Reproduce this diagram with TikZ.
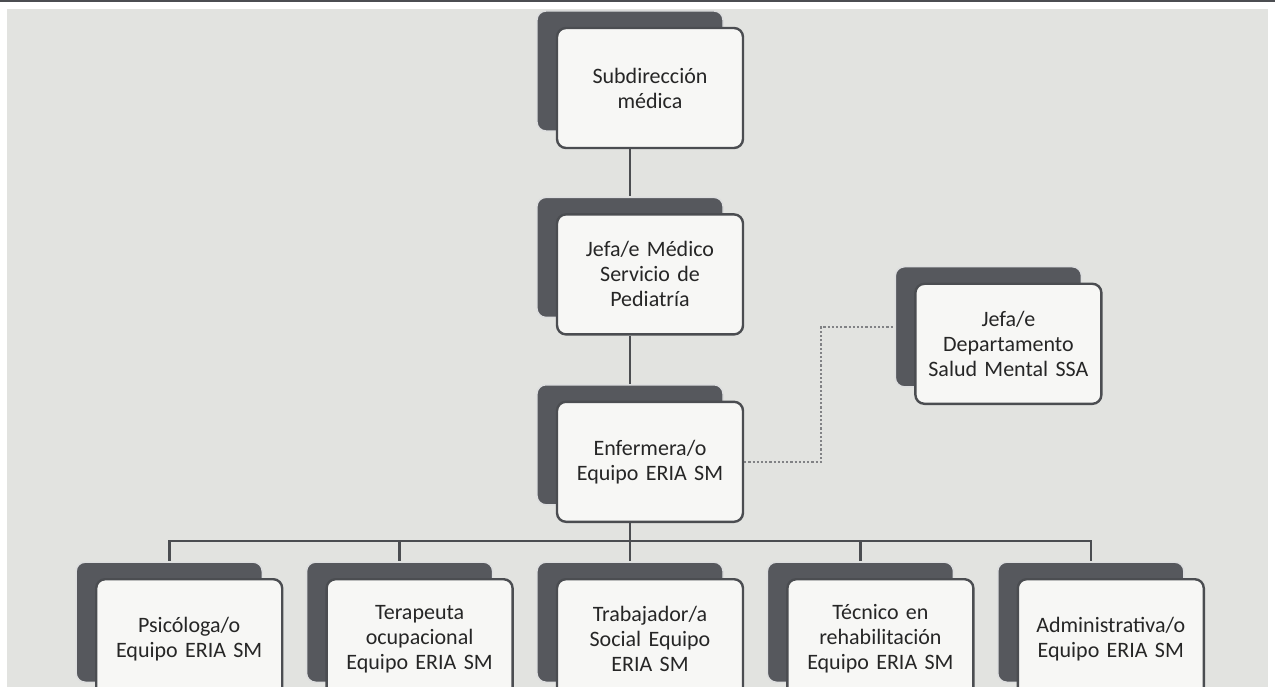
\documentclass[tikz,border=0pt]{standalone}
\usepackage{fontspec}
\setmainfont{Carlito}
\usetikzlibrary{shapes,shadows,positioning}
\definecolor{bggray}{HTML}{E2E3E0}
\definecolor{backgray}{HTML}{56585D}
\definecolor{boxline}{HTML}{4B4D51}
\definecolor{boxfill}{HTML}{F7F7F5}
\tikzset{cargo/.style={rectangle, draw=boxline, line width=2.4pt, fill=boxfill, text width=176pt, align=center, rounded corners=9pt,
 minimum width=186pt, minimum height=120pt, text=black!85, font=\fontsize{22}{25}\selectfont,
 copy shadow={shadow xshift=-20pt, shadow yshift=17pt, fill=backgray, draw=white!80!backgray, line width=1.4pt, opacity=1}}}
\tikzset{line/.style={draw=boxline, line width=2.6pt}}
\tikzset{enlace/.style={draw=boxline!70, line width=2.2pt, dotted}}

\begin{document}
\begin{tikzpicture}[node distance=42pt]
        \fill[white] (0,0) rectangle (1275pt,-687pt);
        \fill[bggray] (7pt,-9pt) rectangle (1268pt,-687pt);
        \fill[boxline] (0,0) rectangle (1275pt,-2pt);
        \useasboundingbox (0,0) rectangle (1275pt,-687pt);

        \node[cargo] at (650pt,-88pt) (subd){Subdirección\\médica};
        \node[cargo, below=64pt of subd] (jefe){Jefa/e Médico\\Servicio de\\Pediatría};
        \node[cargo, below=65pt of jefe] (enf){Enfermera/o\\Equipo ERIA SM};
        \node[cargo, right=170pt of enf, yshift=118pt] (dept){Jefa/e\\Departamento\\Salud Mental SSA};
        \node[cargo, below=55pt of enf] (trab){Trabajador/a\\Social Equipo\\ERIA SM};
        \node[cargo, left=of trab] (tera){Terapeuta\\ocupacional\\Equipo ERIA SM};
        \node[cargo, left=of tera] (psic){Psicóloga/o\\Equipo ERIA SM};
        \node[cargo, right=of trab] (tecn){Técnico en\\rehabilitación\\Equipo ERIA SM};
        \node[cargo, right=of tecn] (admi){Administrativa/o\\Equipo ERIA SM};

        \path[line] ([xshift=-20pt]subd.south) -- ([xshift=-20pt,yshift=17pt]jefe.north);
        \path[line] ([xshift=-20pt]jefe.south) -- ([xshift=-20pt,yshift=17pt]enf.north);
        \foreach \hijo in {psic,tera,trab,tecn,admi}
          \path[line] ([xshift=-20pt]enf.south) -- ++(0,-18pt) -| ([xshift=-20pt,yshift=17pt]\hijo.north);
        \path[enlace] (enf.east) -- ++(77pt,0) |- ([xshift=-20pt,yshift=17pt]dept.west);
      \end{tikzpicture}
\end{document}
